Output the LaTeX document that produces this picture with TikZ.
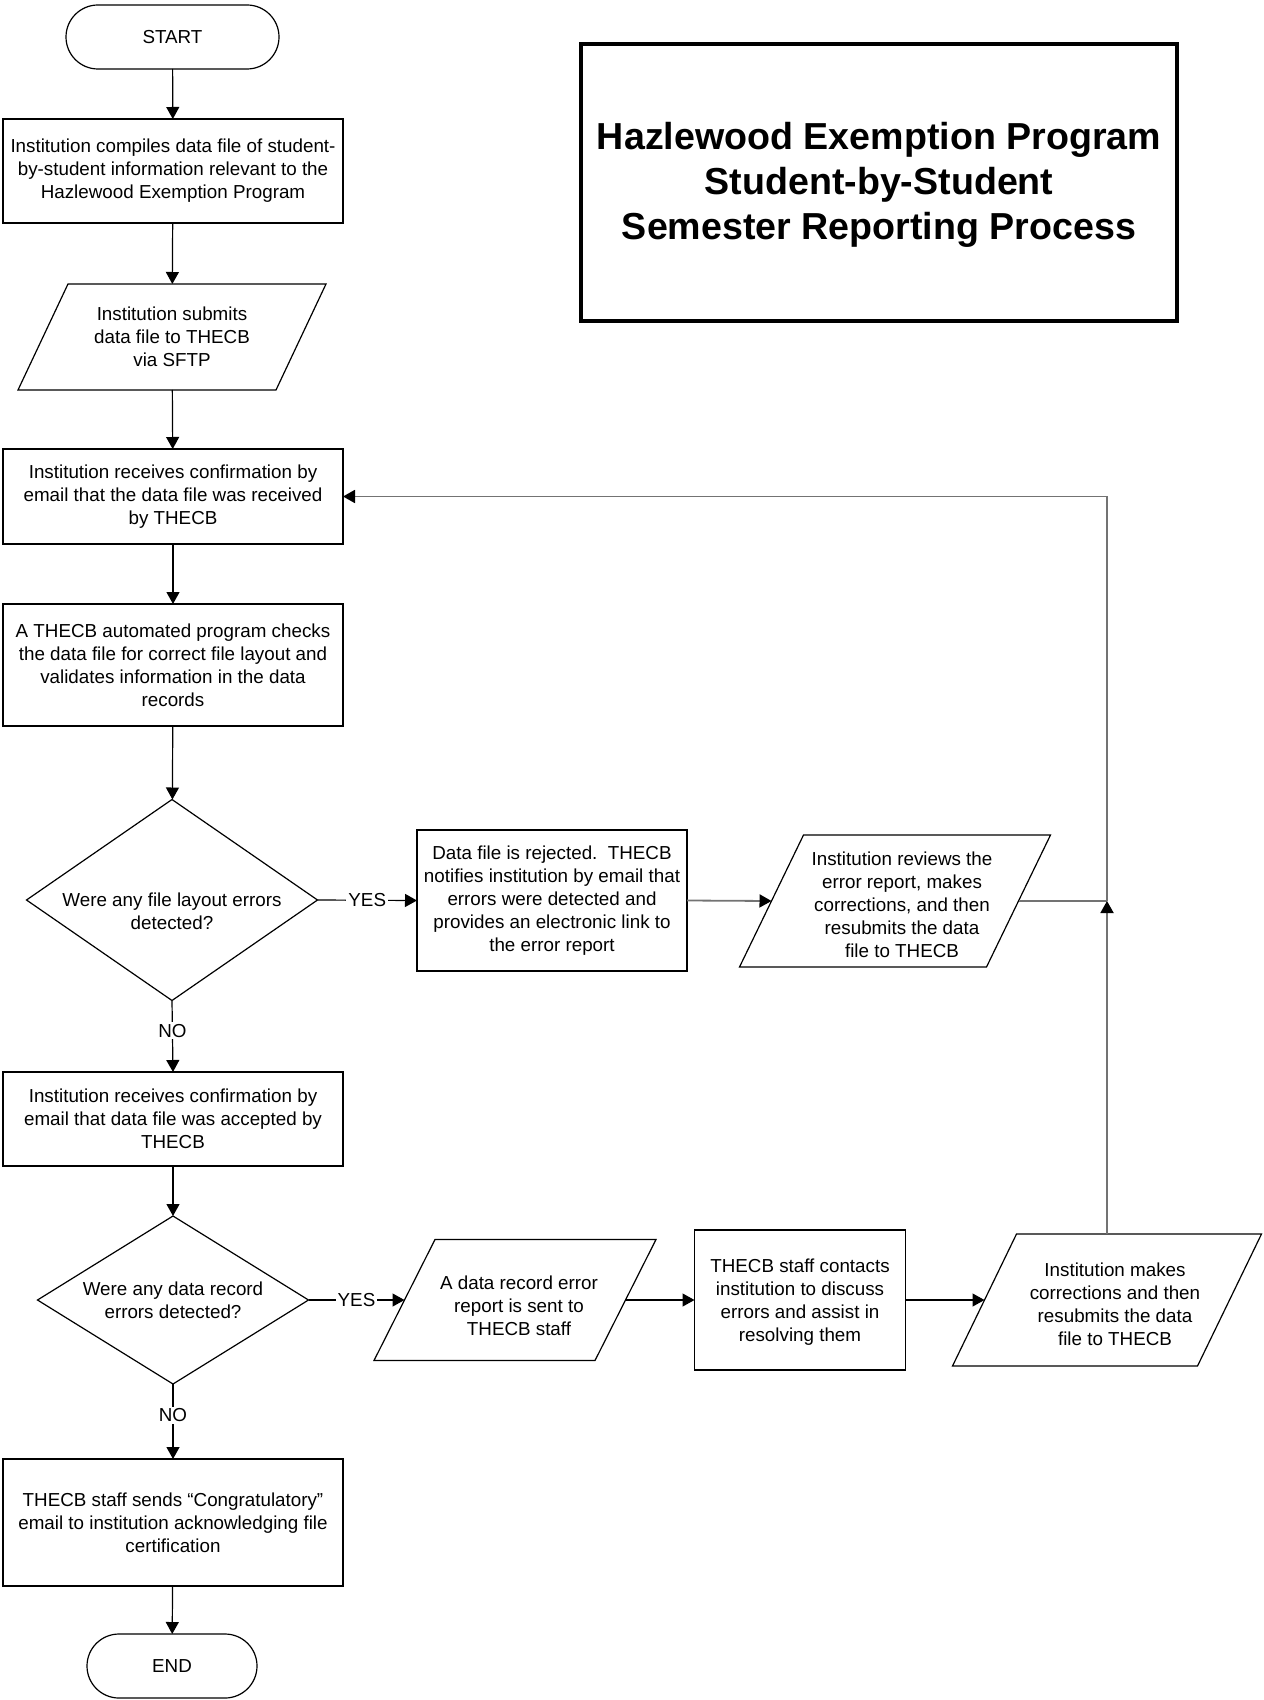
\documentclass[tikz,border=0pt]{standalone}
\usepackage{fontspec}
\setmainfont{Liberation Sans}
\usetikzlibrary{arrows.meta}
\tikzset{
  base/.style={align=center, inner sep=0pt, outer sep=0pt,
    font=\fontsize{9.4}{11.45}\selectfont},
  box/.style={base, draw, line width=0.6pt, rectangle, minimum width=170pt},
  term/.style={base, draw, line width=0.6pt, rectangle, rounded corners=16pt, minimum height=32pt},
  ptxt/.style={base},
  pline/.style={draw, line width=0.6pt},
  arr/.style={line width=0.6pt, -{Triangle[length=6pt,width=6.5pt,color=black]}},
  gl/.style={line width=0.9pt, draw=black!55},
  garr/.style={gl, -{Triangle[length=6pt,width=6.5pt,color=black]}},
  lbl/.style={base, fill=white, inner sep=1pt}
}
% name, x, y, total width (pt), height (pt), slant (pt), text shift, text
\newcommand\parabox[8]{%
  \node[ptxt, minimum width=#4, minimum height=#5] (#1) at (#2,#3) {};
  \node[ptxt] (#1-t) at ([#7]#1.center) {#8};
  \draw[pline] (#1.south west) -- ([xshift=#6]#1.north west) -- (#1.north east)
     -- ([xshift=-#6]#1.south east) -- cycle;
  \coordinate (#1-l) at ([xshift=#6/2]#1.west);
  \coordinate (#1-r) at ([xshift=-#6/2]#1.east);
}
% name, x, y, width (pt), height (pt), text shift, text
\newcommand\diabox[7]{%
  \node[ptxt, minimum width=#4, minimum height=#5] (#1) at (#2,#3) {};
  \node[ptxt] (#1-t) at ([#6]#1.center) {#7};
  \draw[pline] (#1.north) -- (#1.east) -- (#1.south) -- (#1.west) -- cycle;
}
\begin{document}
\begin{tikzpicture}[x=0.5pt,y=-0.5pt]
\useasboundingbox (0,0) rectangle (1263,1700);

% title
\node[draw, line width=1.8pt, minimum width=298pt, minimum height=138.5pt,
      inner sep=0pt] (title) at (879,182.5) {};
\node[align=center, inner sep=0pt,
      font=\fontsize{18.8}{22.5}\selectfont\bfseries] (title-t) at ([yshift=-1.1pt]title.center)
  {Hazlewood Exemption Program\\Student-by-Student\\Semester Reporting Process};

% main column
\node[term, minimum width=106.5pt] (start) at (172.5,37) {START};
\node[box, minimum height=52pt] (b1) at (173,171)
  {Institution compiles data file of student-\\by-student information relevant to the\\Hazlewood Exemption Program};
\parabox{p1}{172}{337}{154pt}{53pt}{25pt}{xshift=0pt}
  {Institution submits\\data file to THECB\\via SFTP}
\node[box, minimum height=47.5pt] (b2) at (173,496.5)
  {Institution receives confirmation by\\email that the data file was received\\by THECB};
\node[box, minimum height=61pt] (b3) at (173,665)
  {A THECB automated program checks\\the data file for correct file layout and\\validates information in the data\\records};
\diabox{d1}{172}{900}{145.5pt}{100.5pt}{yshift=-5.5pt}
  {Were any file layout errors\\detected?}
\node[box, minimum height=47pt] (b4) at (173,1119)
  {Institution receives confirmation by\\email that data file was accepted by\\THECB};
\diabox{d2}{173}{1300}{135.5pt}{84pt}{yshift=0pt}
  {Were any data record\\errors detected?}
\node[box, minimum height=63.5pt] (b5) at (173,1522.5)
  {THECB staff sends “Congratulatory”\\email to institution acknowledging file\\certification};
\node[term, minimum width=85pt] (end) at (172,1666) {END};

% right branch 1
\node[box, minimum width=135pt, minimum height=70.5pt] (rej) at (552,900.5)
  {Data file is rejected.\ \ THECB\\notifies institution by email that\\errors were detected and\\provides an electronic link to\\the error report};
\parabox{p2}{895}{901}{155.5pt}{66pt}{32pt}{xshift=3.5pt,yshift=-2pt}
  {Institution reviews the\\error report, makes\\corrections, and then\\resubmits the data\\file to THECB}

% right branch 2
\parabox{p3}{515}{1300}{141pt}{60.5pt}{30.5pt}{xshift=2pt,yshift=-2.75pt}
  {A data record error\\report is sent to\\THECB staff}
\node[box, minimum width=105.5pt, minimum height=70pt, text depth=0pt] (staff) at (800,1300)
  {\raisebox{0pt}{}THECB staff contacts\\institution to discuss\\errors and assist in\\resolving them};
\parabox{p4}{1107}{1300}{154.5pt}{66pt}{32pt}{xshift=4pt,yshift=-2pt}
  {Institution makes\\corrections and then\\resubmits the data\\file to THECB}

\coordinate (J) at (p4.north |- p2-r);
\coordinate (T) at (J |- b2.east);

% connectors
\draw[arr] (start) -- (b1);
\draw[arr] (b1) -- (p1);
\draw[arr] (p1) -- (b2);
\draw[arr] (b2) -- (b3);
\draw[arr] (b3) -- (d1);
\draw[arr] (d1.south) -- node[lbl, pos=0.42] {NO} (b4.north);
\draw[arr] (b4) -- (d2);
\draw[arr] (d2.south) -- node[lbl, pos=0.42] {NO} (b5.north);
\draw[arr] (b5) -- (end);

\draw[arr] (d1.east) -- node[lbl] {YES} (rej.west);
\draw[garr] (rej.east) -- (p2-l);
\draw[gl] (p2-r) -- (J);

\draw[arr] (d2.east) -- node[lbl] {YES} (p3-l);
\draw[arr] (p3-r) -- (staff.west);
\draw[arr] (staff.east) -- (p4-l);

\draw[garr] (p4.north) -- (J);
\draw[garr] (J) -- (T) -- (b2.east);
\end{tikzpicture}
\end{document}
